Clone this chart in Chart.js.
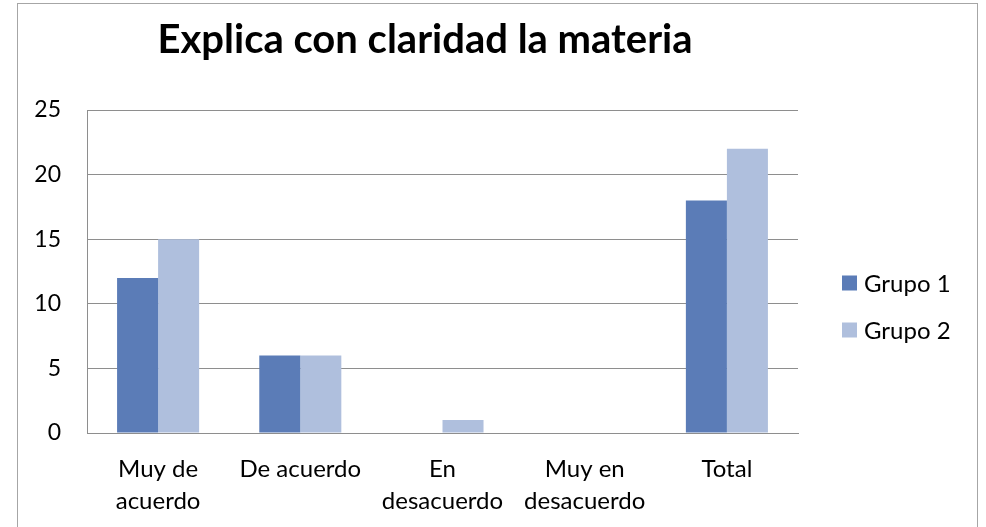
<!DOCTYPE html>
<html>
<head>
<meta charset="utf-8">
<script src="https://cdn.jsdelivr.net/npm/chart.js@4"></script>
<style>
html,body{margin:0;padding:0;background:#fff;}
#wrap{position:relative;width:986px;height:527px;}
</style>
</head>
<body>
<div id="wrap"><canvas id="c" width="986" height="527"></canvas></div>
<script>
const categories = [["Muy de","acuerdo"], "De acuerdo", ["En","desacuerdo"], ["Muy en","desacuerdo"], "Total"];
const grupo1 = [12, 6, 0, 0, 18];
const grupo2 = [15, 6, 1, 0, 22];
const seriesNames = ["Grupo 1", "Grupo 2"];
const seriesColors = ["#5B7CB7", "#AFBFDD"];
const yTicks = [0, 5, 10, 15, 20, 25];
const titleText = "Explica con claridad la materia";

const FONT = "Lato, 'Open Sans', sans-serif";
const GRID = "#8e8e8e";

const decor = {
  id: 'decor',
  afterDraw(chart) {
    const ctx = chart.ctx;
    ctx.save();
    // outer border
    ctx.strokeStyle = "#a6a6a6";
    ctx.lineWidth = 1;
    ctx.strokeRect(17.5, 3.5, 960, 600);
    // title
    ctx.fillStyle = "#000";
    ctx.font = "bold 40px " + FONT;
    ctx.textAlign = "center";
    ctx.textBaseline = "middle";
    ctx.fillText(titleText, 425, 40);
    // legend
    ctx.font = "24px " + FONT;
    ctx.textAlign = "left";
    const ys = [283, 330];
    chart.data.datasets.forEach((ds, i) => {
      ctx.fillStyle = ds.backgroundColor;
      ctx.fillRect(842, ys[i] - 7.5, 15, 15);
      ctx.fillStyle = "#000";
      ctx.fillText(ds.label, 864, ys[i] + 1);
    });
    ctx.restore();
  }
};

new Chart(document.getElementById('c'), {
  type: 'bar',
  data: {
    labels: categories,
    datasets: [
      { label: seriesNames[0], data: grupo1, backgroundColor: seriesColors[0] },
      { label: seriesNames[1], data: grupo2, backgroundColor: seriesColors[1] }
    ]
  },
  options: {
    responsive: false,
    animation: false,
    events: [],
    layout: { padding: { left: 0, right: 188, top: 110, bottom: 0 } },
    datasets: { bar: { categoryPercentage: 0.577, barPercentage: 1.0, borderWidth: 0 } },
    plugins: { legend: { display: false }, title: { display: false }, tooltip: { enabled: false } },
    scales: {
      x: {
        grid: { display: false, drawTicks: false },
        border: { display: true, color: GRID, width: 1 },
        ticks: { color: "#000", font: { family: FONT, size: 24, lineHeight: 1.33 }, padding: 20, maxRotation: 0, autoSkip: false },
        afterFit(s) { s.height = 94; }
      },
      y: {
        min: 0, max: 25,
        afterBuildTicks(s) { s.ticks = yTicks.map(v => ({ value: v })); },
        grid: { color: GRID, lineWidth: 1, drawTicks: false },
        border: { display: true, color: GRID, width: 1 },
        ticks: { color: "#000", font: { family: FONT, size: 23 }, padding: 26 },
        afterFit(s) { s.width = 87; }
      }
    }
  },
  plugins: [decor]
});
</script>
</body>
</html>
